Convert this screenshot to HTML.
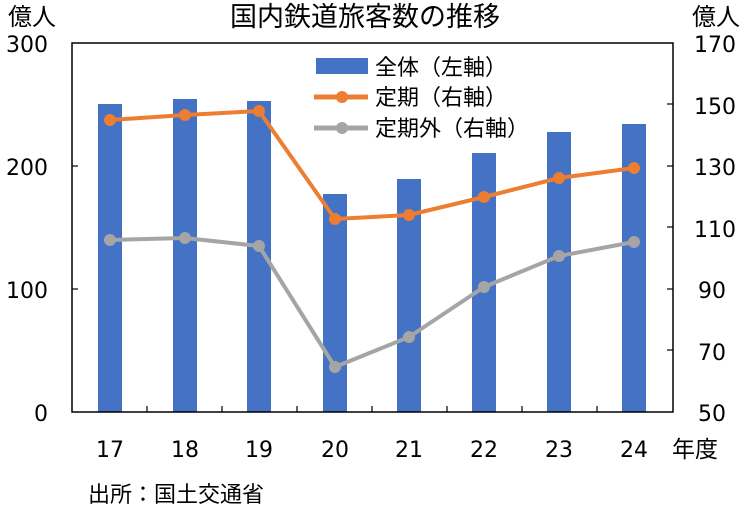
<!DOCTYPE html>
<html><head><meta charset="utf-8"><style>
body{margin:0;background:#fff;}
svg text{font-family:"Liberation Sans","Noto Sans CJK JP",sans-serif;fill:#000;}
svg .n{font-family:"DejaVu Sans",sans-serif;}
</style></head><body>
<svg width="750" height="512" viewBox="0 0 750 512" xmlns="http://www.w3.org/2000/svg">
<rect width="750" height="512" fill="#fff"/>
<g fill="#4472C4">
<rect x="98" y="104" width="24" height="308"/>
<rect x="173" y="99" width="24" height="313"/>
<rect x="247" y="101" width="24" height="311"/>
<rect x="323" y="194" width="24" height="218"/>
<rect x="397" y="179" width="24" height="233"/>
<rect x="472" y="153" width="24" height="259"/>
<rect x="547" y="132" width="24" height="280"/>
<rect x="622" y="124" width="24" height="288"/>
</g>
<rect x="72" y="43" width="601" height="369" fill="none" stroke="#000" stroke-width="1.5"/>
<g stroke="#000" stroke-width="1.2">
<line x1="72" y1="166" x2="78" y2="166"/><line x1="72" y1="289" x2="78" y2="289"/>
<line x1="667" y1="104" x2="673" y2="104"/><line x1="667" y1="166" x2="673" y2="166"/><line x1="667" y1="227" x2="673" y2="227"/><line x1="667" y1="289" x2="673" y2="289"/><line x1="667" y1="350" x2="673" y2="350"/>
<line x1="147" y1="406" x2="147" y2="412"/><line x1="222" y1="406" x2="222" y2="412"/><line x1="297" y1="406" x2="297" y2="412"/><line x1="372" y1="406" x2="372" y2="412"/><line x1="447" y1="406" x2="447" y2="412"/><line x1="522" y1="406" x2="522" y2="412"/><line x1="597" y1="406" x2="597" y2="412"/>
</g>
<polyline fill="none" stroke="#ED7D31" stroke-width="4" points="110,120 185,115 259,111 335,219 409,215 484,197 559,178 634,168"/>
<g fill="#ED7D31"><circle cx="110" cy="120" r="6"/><circle cx="185" cy="115" r="6"/><circle cx="259" cy="111" r="6"/><circle cx="335" cy="219" r="6"/><circle cx="409" cy="215" r="6"/><circle cx="484" cy="197" r="6"/><circle cx="559" cy="178" r="6"/><circle cx="634" cy="168" r="6"/></g>
<polyline fill="none" stroke="#A5A5A5" stroke-width="4" points="110,240 185,238 259,246 335,367 409,337 484,287 559,256 634,242"/>
<g fill="#A5A5A5"><circle cx="110" cy="240" r="6"/><circle cx="185" cy="238" r="6"/><circle cx="259" cy="246" r="6"/><circle cx="335" cy="367" r="6"/><circle cx="409" cy="337" r="6"/><circle cx="484" cy="287" r="6"/><circle cx="559" cy="256" r="6"/><circle cx="634" cy="242" r="6"/></g>
<g font-size="22" text-anchor="end">
<text class="n" x="48" y="52">300</text><text class="n" x="48" y="175">200</text><text class="n" x="48" y="298">100</text><text class="n" x="48" y="421">0</text>
</g>
<g font-size="22" text-anchor="start">
<text class="n" x="694" y="52">170</text><text class="n" x="694" y="114">150</text><text class="n" x="694" y="175">130</text><text class="n" x="694" y="237">110</text><text class="n" x="698" y="298">90</text><text class="n" x="698" y="360">70</text><text class="n" x="698" y="421">50</text>
</g>
<g font-size="22" text-anchor="middle">
<text class="n" x="110" y="457">17</text><text class="n" x="185" y="457">18</text><text class="n" x="259" y="457">19</text><text class="n" x="335" y="457">20</text><text class="n" x="409" y="457">21</text><text class="n" x="484" y="457">22</text><text class="n" x="559" y="457">23</text><text class="n" x="634" y="457">24</text>
</g>
<text x="672" y="457" font-size="23">年度</text>
<text x="8" y="25" font-size="24">億人</text>
<text x="692" y="25" font-size="24">億人</text>
<text x="365" y="26" font-size="27" text-anchor="middle">国内鉄道旅客数の推移</text>
<rect x="316" y="58" width="52" height="16" fill="#4472C4"/>
<text x="375" y="75" font-size="22">全体（左軸）</text>
<line x1="314" y1="97" x2="368" y2="97" stroke="#ED7D31" stroke-width="5"/><circle cx="342" cy="97" r="6" fill="#ED7D31"/>
<text x="375" y="105" font-size="22">定期（右軸）</text>
<line x1="314" y1="128" x2="368" y2="128" stroke="#A5A5A5" stroke-width="5"/><circle cx="342" cy="128" r="6" fill="#A5A5A5"/>
<text x="375" y="136" font-size="22">定期外（右軸）</text>
<text x="88" y="502" font-size="22">出所：国土交通省</text>
</svg>
</body></html>
